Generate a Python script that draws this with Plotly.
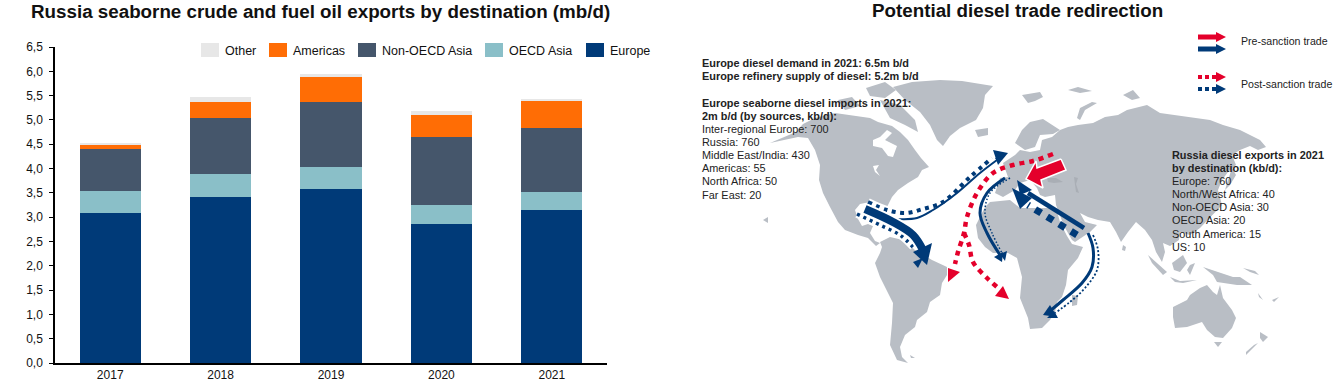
import plotly.graph_objects as go

# ---------- bar chart data ----------
years = ["2017", "2018", "2019", "2020", "2021"]
europe = [3.09, 3.41, 3.58, 2.86, 3.15]
oecd_asia = [0.45, 0.48, 0.46, 0.40, 0.37]
non_oecd_asia = [0.86, 1.15, 1.33, 1.39, 1.32]
americas = [0.09, 0.33, 0.51, 0.45, 0.54]
other = [0.03, 0.10, 0.07, 0.08, 0.05]
y_ticks = [0, .5, 1, 1.5, 2, 2.5, 3, 3.5, 4, 4.5, 5, 5.5, 6, 6.5]

series = [("Europe", europe, "#003A78"), ("OECD Asia", oecd_asia, "#8ABFC8"),
          ("Non-OECD Asia", non_oecd_asia, "#45566B"), ("Americas", americas, "#FF6D05"),
          ("Other", other, "#E7E7E7")]
legend_items = [("Other", "#E7E7E7", 201), ("Americas", "#FF6D05", 269), ("Non-OECD Asia", "#45566B", 358),
                ("OECD Asia", "#8ABFC8", 485), ("Europe", "#003A78", 586)]

# ---------- map outlines ----------
LAND = "#B9BEC5"
land = [
    [(770,143),(785,137),(796,132),(803,124),(815,118),(835,113),(855,116),(870,118),(878,122),(892,126),(900,132),(908,140),(915,150),(921,158),(929,167),(922,170),(918,177),(908,183),(898,190),(892,197),(888,205),(885,211),(881,204),(870,202),(860,204),(855,210),(858,219),(862,226),(868,224),(873,226),(870,233),(875,241),(880,243),(876,246),(868,238),(858,235),(845,230),(838,222),(830,207),(823,193),(819,180),(820,165),(815,150),(808,138),(798,137),(785,140)],
    [(893,87),(912,82),(940,80),(962,81),(993,86),(985,95),(983,108),(976,120),(960,128),(950,136),(943,146),(937,140),(930,125),(920,112),(905,100)],
    [(880,100),(900,105),(915,120),(918,132),(905,125),(890,118)],
    [(866,88),(885,82),(896,90),(885,98),(870,96)],
    [(838,100),(852,97),(860,106),(845,110)],
    [(880,242),(890,237),(903,240),(915,250),(932,260),(947,267),(947,275),(942,283),(940,295),(930,302),(927,312),(917,320),(915,327),(905,335),(900,347),(902,357),(908,363),(897,360),(890,345),(892,323),(893,303),(880,277),(875,263),(880,253),(882,247)],
    [(990,202),(1010,200),(1020,208),(1043,208),(1056,208),(1060,222),(1067,236),(1072,244),(1083,247),(1078,258),(1068,270),(1066,285),(1062,297),(1057,302),(1055,312),(1050,320),(1042,328),(1030,329),(1028,318),(1020,298),(1022,277),(1017,258),(1008,253),(993,253),(985,247),(978,238),(976,225),(985,207)],
    [(1072,295),(1078,296),(1077,305),(1072,306)],
    [(1060,130),(1068,127),(1078,125),(1093,123),(1105,117),(1118,115),(1127,110),(1147,105),(1160,113),(1180,116),(1193,118),(1210,120),(1223,125),(1240,130),(1260,140),(1266,147),(1258,150),(1250,146),(1240,150),(1232,155),(1236,165),(1228,172),(1222,180),(1218,190),(1222,205),(1212,215),(1200,228),(1190,235),(1180,232),(1179,240),(1170,246),(1163,243),(1165,252),(1162,262),(1156,252),(1152,240),(1145,230),(1136,222),(1128,232),(1121,242),(1116,232),(1110,222),(1098,220),(1088,217),(1080,213),(1085,222),(1097,225),(1090,232),(1075,242),(1072,240),(1064,226),(1058,210),(1056,205),(1055,195),(1045,197),(1040,195),(1037,188),(1030,180),(1020,183),(1015,190),(1003,197),(995,193),(1000,178),(1008,177),(1003,163),(1015,155),(1020,150),(1030,152),(1040,150),(1042,140),(1052,137)],
    [(1015,143),(1022,130),(1030,122),(1043,119),(1060,130),(1053,134),(1040,135),(1035,147),(1025,150)],
    [(1077,118),(1080,108),(1092,102),(1097,103),(1085,110),(1080,120)],
    [(1022,95),(1040,92),(1043,97),(1035,101),(1028,103)],
    [(1068,90),(1078,87),(1092,91),(1080,93)],
    [(1123,95),(1133,90),(1140,98),(1132,100)],
    [(975,130),(988,128),(988,135),(978,137)],
    [(1232,168),(1236,175),(1230,185),(1225,190),(1228,180)],
    [(1123,245),(1126,247),(1125,251),(1122,250)],
    [(1148,255),(1167,272),(1163,275),(1152,263)],
    [(1172,263),(1183,255),(1187,263),(1180,272),(1174,270)],
    [(1187,270),(1190,265),(1195,263),(1192,270),(1190,275)],
    [(1170,277),(1180,281),(1197,280),(1183,283),(1175,282)],
    [(1203,267),(1217,272),(1233,277),(1240,277),(1252,285),(1237,285),(1217,282),(1213,275)],
    [(1173,307),(1187,300),(1190,295),(1200,288),(1207,285),(1213,292),(1217,295),(1220,285),(1223,298),(1232,310),(1236,318),(1232,328),(1223,338),(1215,337),(1207,330),(1202,322),(1187,327),(1175,328),(1173,317)],
    [(1214,342),(1222,342),(1218,347)],
    [(1260,332),(1268,337),(1263,342),(1260,338)],
    [(1258,343),(1246,355),(1246,352),(1254,345)],
    [(1272,300),(1279,297),(1274,302)],
    [(1258,293),(1263,300),(1259,297)],
    [(1243,268),(1255,271),(1259,275),(1250,272)],
    [(910,355),(915,358),(911,358)],
    [(763,220),(768,217),(768,223)],
]
lakes_white = [
    [(887,130),(892,133),(885,140),(897,146),(893,157),(888,156),(882,148),(873,146),(873,140),(880,137)],
    [(873,166),(879,165),(876,170),(880,176),(875,172)],
]
inland_seas = [
    [(1047,178),(1056,178),(1063,182),(1054,183),(1048,182)],
    [(1074,177),(1078,178),(1076,184),(1079,193),(1076,192),(1075,185)],
]

# ---------- trade routes: (x, y points, width, dash, colour, head points, white halo) ----------
NAVY = "#003A78"
RED = "#E4002B"
routes = [
    ([857,880,900,913], [214,225,235,247], 3.5, "3px,4px", NAVY, [(918,268),(923,258),(913,262)], True),
    ([868,887,905,923,943,970,992], [202,210,213,209,202,177,158], 4, "4px,4.5px", NAVY, [(1008,153),(993,150),(998,165)], True),
    ([897,917,933,957,980,997], [219,218,210,193,173,160], 2, "solid", NAVY, [(1002,156),(995,158),(998,163)], False),
    ([865,893,913,923], [209,222,235,250], 8, "solid", NAVY, [(927,265),(932,243),(913,252)], True),
    ([1053,1033,1013,993,977,967,964,958,955], [154,161,165,173,193,217,233,252,264], 4.5, "5px,5px", RED, [(948,282),(960,272),(948,268)], False),
    ([964,969,973,987,997], [233,245,262,278,287], 4.5, "5px,5px", RED, [(1009,299),(995,296),(1003,286)], False),
    ([1010,990,985,992,1002], [178,193,213,233,253], 1.5, "1.5px,2px", NAVY, [(1005,261),(1000,254),(1007,251)], False),
    ([1005,987,980,987,1000], [178,193,213,233,255], 3, "solid", NAVY, [(1002,262),(994,257),(1003,252)], False),
    ([1077,1028], [235,205], 7, "7px,7px", NAVY, [(1012,188),(1032,198),(1020,209)], False),
    ([1084,1028], [228,193], 4.5, "solid", NAVY, [(1017,180),(1032,190),(1020,195)], False),
    ([1093,1098,1097,1085,1070,1055], [235,250,270,288,302,313], 1.8, "2px,2px", NAVY, [(1047,318),(1054,311),(1058,318)], False),
    ([1088,1093,1092,1082,1063,1050], [233,248,267,283,300,311], 3, "solid", NAVY, [(1043,315),(1050,305),(1057,317)], False),
]
big_red_arrow = [(1061,159),(1066,170),(1041,180),(1043,188),(1026,179),(1036,161),(1037,168)]

key_routes = [
    ([1198,1216], [37,37], 5, "solid", RED, [(1226,37),(1216,32),(1216,42)], False),
    ([1198,1216], [49,49], 5, "solid", NAVY, [(1226,49),(1216,44),(1216,54)], False),
    ([1198,1216], [77,77], 4, "4px,3px", RED, [(1226,77),(1216,72),(1216,82)], False),
    ([1198,1216], [89,89], 4, "4px,3px", NAVY, [(1226,89),(1216,84),(1216,94)], False),
]

# ---------- texts ----------
left_notes = [("Europe diesel demand in 2021: 6.5m b/d", 63, True), ("Europe refinery supply of diesel: 5.2m b/d", 76, True),
              ("Europe seaborne diesel imports in 2021:", 103, True), ("2m b/d (by sources, kb/d):", 116, True),
              ("Inter-regional Europe: 700", 129, False), ("Russia: 760", 142, False), ("Middle East/India: 430", 155, False),
              ("Americas: 55", 168, False), ("North Africa: 50", 181, False), ("Far East: 20", 195, False)]
right_notes = [("Russia diesel exports in 2021", 155, True), ("by destination (kb/d):", 168, True), ("Europe: 760", 181, False),
               ("North/West Africa: 40", 194, False), ("Non-OECD Asia: 30", 207, False), ("OECD Asia: 20", 220, False),
               ("South America: 15", 234, False), ("US: 10", 247, False)]
key_labels = [("Pre-sanction trade", 41), ("Post-sanction trade", 84)]

FONT = "Liberation Sans, Arial, sans-serif"
fig = go.Figure()

for name, vals, col in series:
    fig.add_trace(go.Bar(x=years, y=vals, name=name, marker=dict(color=col, line=dict(width=0)),
                         showlegend=False, xaxis="x", yaxis="y"))


def poly(pts, color, edge=None):
    fig.add_trace(go.Scatter(x=[p[0] for p in pts] + [pts[0][0]], y=[p[1] for p in pts] + [pts[0][1]],
                             mode="lines", fill="toself", fillcolor=color,
                             line=dict(width=1.5 if edge else 0, color=edge or color),
                             showlegend=False, hoverinfo="skip", xaxis="x2", yaxis="y2"))


def route(xs, ys, width, dash, color, head, halo):
    if halo:
        fig.add_trace(go.Scatter(x=xs, y=ys, mode="lines", line=dict(color="white", width=width + 4, shape="spline"),
                                 showlegend=False, hoverinfo="skip", xaxis="x2", yaxis="y2"))
    fig.add_trace(go.Scatter(x=xs, y=ys, mode="lines", line=dict(color=color, width=width, dash=dash, shape="spline"),
                             showlegend=False, hoverinfo="skip", xaxis="x2", yaxis="y2"))
    poly(head, color)


for p in land:
    poly(p, LAND)
for p in lakes_white:
    poly(p, "white")
for p in inland_seas:
    poly(p, "#A9AEB5")
for r in routes:
    route(*r)
poly(big_red_arrow, RED, edge="white")
for r in key_routes:
    route(*r)

ann = []


def text(s, x, y, size=10.9, bold=False, anchor="left", color="#222222"):
    ann.append(dict(text=f"<b>{s}</b>" if bold else s, x=x, y=y, xref="x2", yref="y2", showarrow=False,
                    xanchor=anchor, yanchor="middle", font=dict(family=FONT, size=size, color=color)))


text("Russia seaborne crude and fuel oil exports by destination (mb/d)", 320, 11, 18.8, True, "center", "#111111")
text("Potential diesel trade redirection", 1017.5, 10, 18.8, True, "center", "#111111")
for s, y, b in left_notes:
    text(s, 700, y, 10.9, b)
for s, y, b in right_notes:
    text(s, 1170, y, 10.9, b)
for s, y in key_labels:
    text(s, 1239, y, 10.6)

shapes = []
for name, col, x in legend_items:
    shapes.append(dict(type="rect", xref="x2", yref="y2", x0=x, x1=x + 18, y0=43, y1=57, fillcolor=col, line=dict(width=0)))
    text(name, x + 22, 50.5, 12.5, False, "left", "#111111")

fig.update_layout(
    width=1334, height=385, autosize=False, margin=dict(l=0, r=0, t=0, b=0),
    paper_bgcolor="white", plot_bgcolor="rgba(0,0,0,0)", barmode="stack", bargap=0.445, separators=",.",
    font=dict(family=FONT, size=12, color="#111111"), annotations=ann, shapes=shapes, showlegend=False,
    xaxis=dict(domain=[55 / 1334, 607 / 1334], type="category", showline=True, linecolor="black", linewidth=1.5,
               ticks="", showgrid=False, zeroline=False, anchor="y", tickfont=dict(size=12), automargin=False),
    yaxis=dict(domain=[22 / 385, 338 / 385], range=[0, 6.5], tickvals=y_ticks, tickformat=".1f", showline=True,
               linecolor="black", linewidth=1.5, ticks="outside", ticklen=4, tickcolor="black", showgrid=False,
               zeroline=False, anchor="x", tickfont=dict(size=12), automargin=False, ticklabelstandoff=4),
    xaxis2=dict(domain=[0, 1], range=[0, 1334], visible=False, anchor="y2", automargin=False),
    yaxis2=dict(domain=[0, 1], range=[385, 0], visible=False, anchor="x2", automargin=False),
)
fig.write_html("out.html", config={"displayModeBar": False}, post_script="document.body.style.margin='0';")
